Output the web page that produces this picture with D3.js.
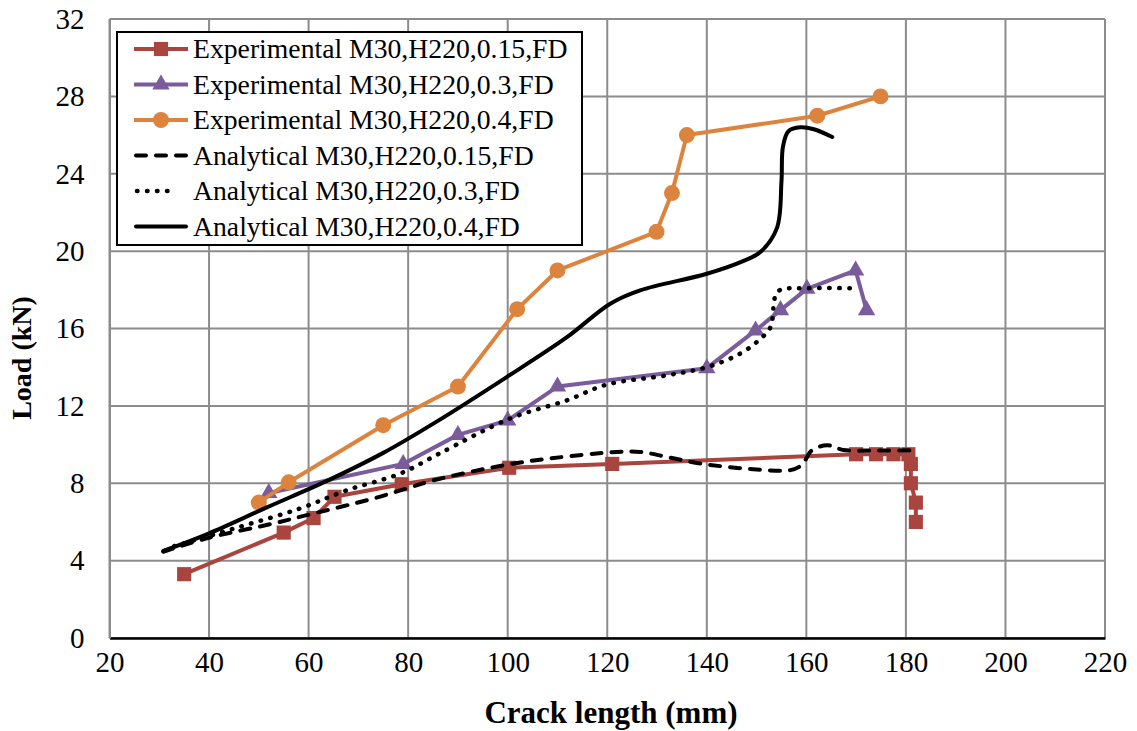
<!DOCTYPE html>
<html>
<head>
<meta charset="utf-8">
<script src="https://cdn.jsdelivr.net/npm/d3@7"></script>
<style>
  html, body { margin: 0; padding: 0; background: #fff; }
  svg { display: block; }
  svg text { font-family: "Liberation Serif", "Times New Roman", serif; }
</style>
</head>
<body>
<svg id="chart" width="1137" height="731"></svg>
<script>
// Crack length (mm) vs load (kN)
const xTicks = [20, 40, 60, 80, 100, 120, 140, 160, 180, 200, 220];
const yTicks = [0, 4, 8, 12, 16, 20, 24, 28, 32];

const seriesNames = [
  "Experimental M30,H220,0.15,FD",
  "Experimental M30,H220,0.3,FD",
  "Experimental M30,H220,0.4,FD",
  "Analytical M30,H220,0.15,FD",
  "Analytical M30,H220,0.3,FD",
  "Analytical M30,H220,0.4,FD"
];

// Experimental series: [crack length, load]
const exp015 = [[35,3.3],[55,5.45],[61,6.2],[65.2,7.3],[78.7,7.95],[100.3,8.8],[121,9.0],
  [170,9.5],[174,9.5],[177.5,9.5],[180.5,9.5],[181,9.0],[181,8.0],[182,7.0],[182,6.0]];
const exp03 = [[52,7.5],[79,9.0],[90,10.5],[100,11.25],[110,13.0],[140,13.95],[149.8,15.9],
  [154.8,16.95],[160.1,18.05],[169.9,19.0],[172.1,16.95]];
const exp04 = [[50,7.0],[56,8.05],[75,11.0],[90,13.0],[101.9,17.0],[110,19.0],[129.9,21.0],
  [133,23.0],[136,26.0],[162.2,27.0],[174.9,28.0]];

// Analytical series
const ana015 = [[30.8,4.46],[39.5,5.15],[52.9,5.92],[59.6,6.35],[73,7.21],[79.7,7.73],[85.1,8.15],
  [99.2,8.93],[108.5,9.28],[121.9,9.62],[126.6,9.62],[132,9.36],[138.7,9.02],[148.7,8.74],
  [156.8,8.68],[159.1,8.95],[161.1,9.7],[164.2,9.96],[167.5,9.72],[174,9.7],[181.2,9.7]];
const ana03 = [[33,4.75],[46.2,5.75],[58.3,6.7],[67.7,7.64],[78.4,8.5],[86.4,9.55],[100.5,11.35],
  [111.9,12.29],[119.9,13.1],[132,13.58],[140,14.0],[146.7,14.7],[150.4,15.38],[152.8,16.07],
  [153.4,17.1],[153.8,17.7],[154.8,18.0],[160,18.08],[170.3,18.08]];
const ana04 = [[30.8,4.5],[39.9,5.4],[51.6,6.75],[64,8.16],[75,9.57],[85.8,11.2],[99.8,13.49],
  [111.9,15.55],[120.6,17.28],[126.6,17.97],[140,18.83],[147.4,19.5],[150.75,19.95],[154.1,21.2],
  [155,23.6],[155.3,25.4],[156.4,26.2],[158.8,26.4],[161.5,26.3],[165.2,25.9]];

const expColors = ["#a9443f", "#7a5c9c", "#dc833d"];
const serif = "'Liberation Serif', 'Times New Roman', serif";

const svg = d3.select("#chart");
const plot = { left: 109.5, right: 1105, top: 19, bottom: 638 };

const x = d3.scaleLinear().domain([20, 220]).range([plot.left, plot.right]);
const y = d3.scaleLinear().domain([0, 32]).range([plot.bottom, plot.top]);

// Gridlines
const grid = svg.append("g");
grid.selectAll("line.v").data(xTicks).join("line")
  .attr("x1", d => x(d)).attr("x2", d => x(d))
  .attr("y1", plot.top).attr("y2", plot.bottom)
  .attr("stroke", "#8c8c8c").attr("stroke-width", 2);
grid.selectAll("line.h").data(yTicks).join("line")
  .attr("x1", plot.left).attr("x2", plot.right)
  .attr("y1", d => y(d)).attr("y2", d => y(d))
  .attr("stroke", "#8c8c8c").attr("stroke-width", 2);

// Axes
const xAxis = svg.append("g")
  .attr("transform", `translate(0,${plot.bottom})`)
  .call(d3.axisBottom(x).tickValues(xTicks).tickSize(0).tickPadding(13).tickFormat(d3.format("d")));
xAxis.attr("font-family", null);
xAxis.select(".domain").attr("stroke", "#000").attr("stroke-width", 2.5);
xAxis.selectAll("text").style("font-size", "29px").style("font-family", serif).attr("fill", "#000");

const yAxis = svg.append("g")
  .attr("transform", `translate(${plot.left},0)`)
  .call(d3.axisLeft(y).tickValues(yTicks).tickSize(0).tickPadding(25).tickFormat(d3.format("d")));
yAxis.attr("font-family", null);
yAxis.select(".domain").attr("stroke", "#8c8c8c").attr("stroke-width", 2);
yAxis.selectAll("text").style("font-size", "29px").style("font-family", serif).attr("fill", "#000");

// Axis titles
svg.append("text")
  .attr("x", 611).attr("y", 723)
  .attr("text-anchor", "middle")
  .style("font-family", serif).style("font-weight", "bold").style("font-size", "31px")
  .text("Crack length (mm)");
svg.append("text")
  .attr("transform", "translate(31,358) rotate(-90)")
  .attr("text-anchor", "middle")
  .style("font-family", serif).style("font-weight", "bold").style("font-size", "28px")
  .text("Load (kN)");

const line = d3.line().x(d => x(d[0])).y(d => y(d[1]));
const smooth = d3.line().x(d => x(d[0])).y(d => y(d[1])).curve(d3.curveCatmullRom.alpha(0.5));

const expSeries = [exp015, exp03, exp04];
const markerTypes = [d3.symbolSquare, d3.symbolTriangle, d3.symbolCircle];
const markerSizes = [200, 130, 200];

// Experimental lines and markers
const expG = svg.append("g");
expSeries.forEach((data, i) => {
  expG.append("path").datum(data)
    .attr("d", line).attr("fill", "none")
    .attr("stroke", expColors[i]).attr("stroke-width", 4).attr("stroke-linejoin", "round");
  expG.append("g").selectAll("path").data(data).join("path")
    .attr("transform", d => `translate(${x(d[0])},${y(d[1])})`)
    .attr("d", d3.symbol().type(markerTypes[i]).size(markerSizes[i]))
    .attr("fill", expColors[i]);
});

// Analytical curves
const anaStyles = [
  { dash: "10 10", cap: "round" },
  { dash: "0.5 9.5", cap: "round" },
  { dash: null, cap: "round" }
];
const anaSeries = [ana015, ana03, ana04];
anaSeries.forEach((data, i) => {
  svg.append("path").datum(data)
    .attr("d", smooth).attr("fill", "none")
    .attr("stroke", "#000").attr("stroke-width", i === 1 ? 4.5 : 4)
    .attr("stroke-linecap", anaStyles[i].cap)
    .attr("stroke-dasharray", anaStyles[i].dash);
});

// Legend
const legend = svg.append("g");
legend.append("rect")
  .attr("x", 117).attr("y", 32).attr("width", 465).attr("height", 213)
  .attr("fill", "#fff").attr("stroke", "#000").attr("stroke-width", 2);

const rowY = [49, 84.5, 120, 155.5, 191, 226.5];
seriesNames.forEach((name, i) => {
  const ly = rowY[i];
  const g = legend.append("g");
  if (i < 3) {
    g.append("line").attr("x1", 134).attr("x2", 188).attr("y1", ly).attr("y2", ly)
      .attr("stroke", expColors[i]).attr("stroke-width", 4);
    g.append("path").attr("transform", `translate(161,${ly})`)
      .attr("d", d3.symbol().type(markerTypes[i]).size(markerSizes[i]))
      .attr("fill", expColors[i]);
  } else {
    const s = anaStyles[i - 3];
    const isDot = i === 4;
    g.append("line").attr("x1", isDot ? 137 : 136).attr("x2", isDot ? 176 : 186)
      .attr("y1", ly).attr("y2", ly)
      .attr("stroke", "#000").attr("stroke-width", isDot ? 4.5 : 4)
      .attr("stroke-linecap", s.cap).attr("stroke-dasharray", s.dash);
  }
  g.append("text").attr("x", 193).attr("y", ly).attr("dy", "0.33em")
    .style("font-family", serif).style("font-size", "27.7px").attr("fill", "#000").text(name);
});
</script>
</body>
</html>
